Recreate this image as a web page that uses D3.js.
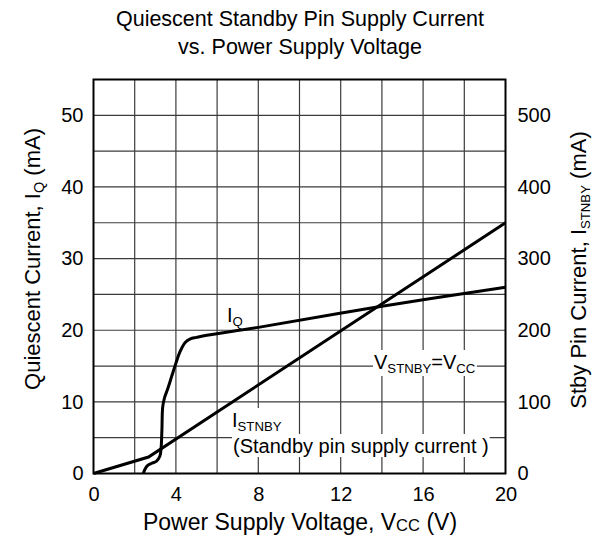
<!DOCTYPE html>
<html><head><meta charset="utf-8">
<script src="https://cdn.jsdelivr.net/npm/d3@7"></script>
<style>body{margin:0;background:#fff}svg{display:block}text{font-family:"Liberation Sans",Arial,sans-serif;fill:#000}</style>
</head><body>
<svg id="c" width="602" height="540"></svg>
<script>
// Data
const iqV = [2.42, 2.5, 2.62, 2.8, 3.05, 3.22, 3.28, 3.32, 3.36, 3.45, 3.6, 3.8, 4.0, 4.2, 4.45, 4.7, 5.0, 5.5, 8, 13.7, 20];
const iqI = [0, 0.6, 1.1, 1.4, 1.7, 2.4, 3.5, 6, 9.3, 10.6, 11.8, 13.6, 15.4, 17.0, 18.3, 18.8, 19.0, 19.3, 20.4, 23.2, 26.0];
const stV = [0, 2.67, 20];
const stI = [0, 2.3, 35];   // mA on the left scale (x10 on the right scale)
const xTicks = [0, 4, 8, 12, 16, 20];
const yLeftTicks = [0, 10, 20, 30, 40, 50];
const yRightTicks = [0, 100, 200, 300, 400, 500];

const svg = d3.select("#c");
const L = 93.5, R = 505.5, T = 79.5, B = 473.5;
const x = d3.scaleLinear().domain([0, 20]).range([L, R]);
const y = d3.scaleLinear().domain([0, 55]).range([B, T]);
const y2 = d3.scaleLinear().domain([0, 550]).range([B, T]);

// grid
const g = svg.append("g");
g.selectAll("line.v").data(d3.range(2, 20, 2)).join("line").attr("class", "v")
  .attr("x1", d => x(d)).attr("x2", d => x(d)).attr("y1", T).attr("y2", B)
  .attr("stroke", "#3c3c3c").attr("stroke-width", 1.2);
g.selectAll("line.h").data(d3.range(5, 55, 5)).join("line").attr("class", "h")
  .attr("y1", d => y(d)).attr("y2", d => y(d)).attr("x1", L).attr("x2", R)
  .attr("stroke", "#3c3c3c").attr("stroke-width", 1.2);

const bgLayer = svg.append("g");
const annLayer = svg.append("g");
const curveLayer = svg.append("g");

// curves
curveLayer.append("path").datum(stV.map((v, i) => [v, stI[i]]))
  .attr("d", d3.line().x(d => x(d[0])).y(d => y(d[1])))
  .attr("fill", "none").attr("stroke", "#000").attr("stroke-width", 3);
curveLayer.append("path").datum(iqV.map((v, i) => [v, iqI[i]]))
  .attr("d", d3.line().x(d => x(d[0])).y(d => y(d[1])).curve(d3.curveCatmullRom.alpha(0.5)))
  .attr("fill", "none").attr("stroke", "#000").attr("stroke-width", 3).attr("stroke-linejoin", "round");

// frame
svg.append("rect").attr("x", L).attr("y", T).attr("width", R - L).attr("height", B - T)
  .attr("fill", "none").attr("stroke", "#000").attr("stroke-width", 2);

// axes
const fs = 20;
const ax = svg.append("g").attr("transform", `translate(0,${B})`)
  .call(d3.axisBottom(x).tickValues(xTicks).tickSize(0).tickPadding(13).tickFormat(d3.format("d")));
const ayl = svg.append("g").attr("transform", `translate(${L},0)`)
  .call(d3.axisLeft(y).tickValues(yLeftTicks).tickSize(0).tickPadding(10).tickFormat(d3.format("d")));
const ayr = svg.append("g").attr("transform", `translate(${R},0)`)
  .call(d3.axisRight(y2).tickValues(yRightTicks).tickSize(0).tickPadding(12).tickFormat(d3.format("d")));
[ax, ayl, ayr].forEach(a => {
  a.select(".domain").remove();
  a.selectAll("text").attr("font-size", fs).attr("font-family", "Liberation Sans, Arial, sans-serif").attr("fill", "#000");
});

// title
const title = svg.append("text").attr("text-anchor", "middle").attr("font-size", 21.5);
title.append("tspan").attr("x", 300).attr("y", 26).text("Quiescent Standby Pin Supply Current");
title.append("tspan").attr("x", 300).attr("y", 54).text("vs. Power Supply Voltage");

function sub(t, parts, size) {
  parts.forEach(p => {
    if (p.s) t.append("tspan").attr("font-size", size * (p.k || 0.66)).attr("dy", p.dy || 4).text(p.t);
    else t.append("tspan").attr("font-size", size).attr("dy", p.dy || 0).text(p.t);
  });
  return t;
}
// x title
sub(svg.append("text").attr("x", 300).attr("y", 530).attr("text-anchor", "middle").attr("font-size", 23),
  [{t: "Power Supply Voltage, V"}, {t: "CC", s: true, dy: 0.5, k: 0.72}, {t: " (V)", dy: -0.5}], 23);
// left y title
sub(svg.append("text").attr("transform", `translate(40,259) rotate(-90)`).attr("text-anchor", "middle").attr("font-size", 22),
  [{t: "Quiescent Current, I"}, {t: "Q", s: true, dy: 4}, {t: " (mA)", dy: -4}], 22);
// right y title
sub(svg.append("text").attr("transform", `translate(586,270) rotate(-90)`).attr("text-anchor", "middle").attr("font-size", 22),
  [{t: "Stby Pin Current, I"}, {t: "STNBY", s: true, dy: 4, k: 0.6}, {t: " (mA)", dy: -4}], 22);

// annotations with white backgrounds
function withBg(t, pad) {
  const b = t.node().getBBox();
  bgLayer.append("rect").attr("x", b.x - pad).attr("y", b.y - 1).attr("width", b.width + 2 * pad).attr("height", b.height + 1)
    .attr("fill", "#fff");
}
sub(annLayer.append("text").attr("x", 227).attr("y", 322).attr("font-size", 20),
  [{t: "I"}, {t: "Q", s: true, dy: 4}], 20);

const vT = sub(annLayer.append("text").attr("x", 374).attr("y", 369).attr("font-size", 20),
  [{t: "V"}, {t: "STNBY", s: true, dy: 4}, {t: "=V", dy: -4}, {t: "CC", s: true, dy: 4}], 20);
withBg(vT, 1);

const isT = sub(annLayer.append("text").attr("x", 232).attr("y", 427).attr("font-size", 20),
  [{t: "I"}, {t: "STNBY", s: true, dy: 4}], 20);
withBg(isT, 1);
const pT = annLayer.append("text").attr("x", 233).attr("y", 453).attr("font-size", 20).text("(Standby pin supply current )");
withBg(pT, 1);
</script>
</body></html>
